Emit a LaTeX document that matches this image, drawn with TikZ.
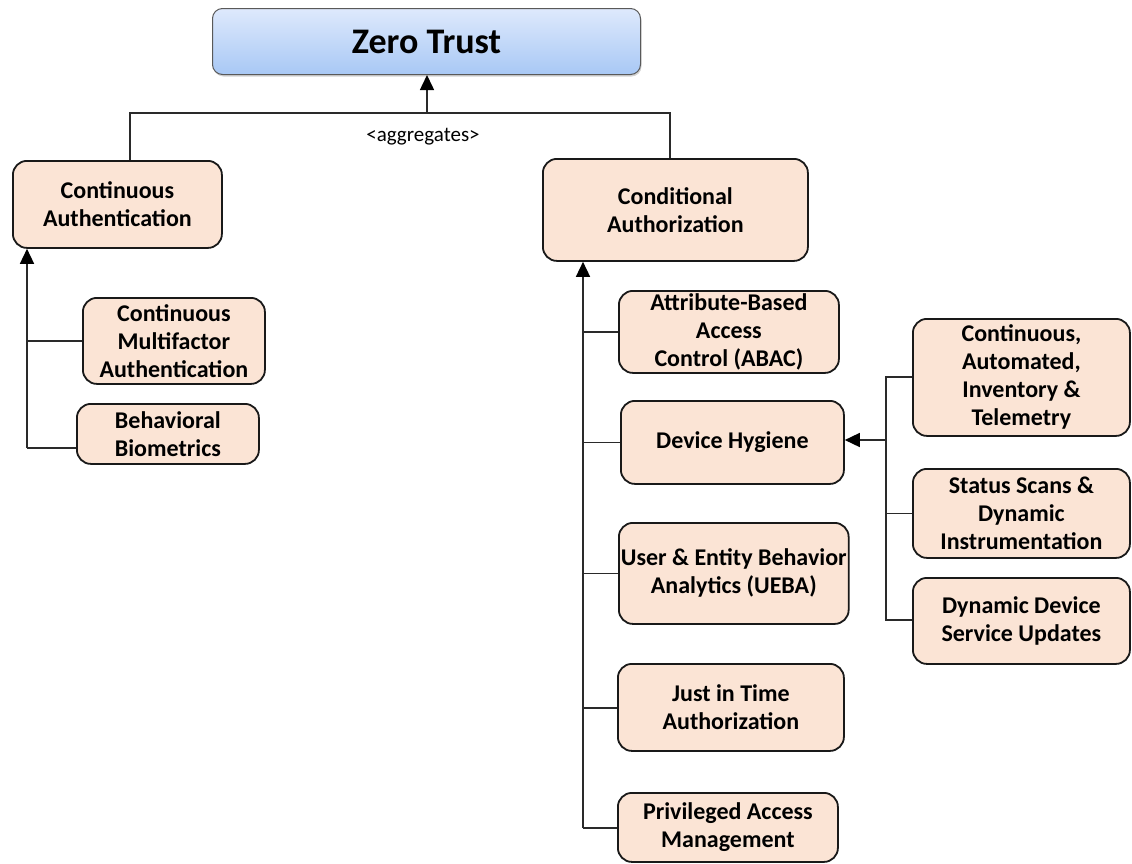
\documentclass[tikz,border=0pt]{standalone}
\usepackage{fontspec}
\setmainfont{Carlito}
\usetikzlibrary{arrows.meta,shadows}
\definecolor{peach}{HTML}{FBE4D5}
\definecolor{ztTop}{HTML}{DEE9FC}
\definecolor{ztBot}{HTML}{A8C8F5}
\definecolor{lineC}{HTML}{2A2A2A}
\begin{document}
\begin{tikzpicture}[x=1pt,y=-1pt,
  box/.style={draw=black!90, line width=1.8pt, fill=peach, rounded corners=14pt,
    anchor=north west, align=center, inner sep=2pt,
    font=\bfseries\fontsize{24}{28}\selectfont},
  ztbox/.style={draw=black!65, line width=1pt, rounded corners=10pt,
    top color=ztTop, bottom color=ztBot, anchor=north west,
    drop shadow={shadow xshift=1pt, shadow yshift=-2pt, opacity=0.35},
    font=\bfseries\fontsize{36}{40}\selectfont},
  conn/.style={draw=lineC, line width=1.5pt},
  arr/.style={conn, -{Triangle[length=15pt,width=14pt,color=black,fill=black]}},
  agg/.style={font=\fontsize{21}{24}\selectfont}]
\useasboundingbox (0,0) rectangle (1132,863);

\node[ztbox, minimum width=428pt, minimum height=66pt] (zt) at (212,8) {Zero Trust};

\node[box, minimum width=209pt, minimum height=87pt] (ca) at (12,160) {Continuous\\Authentication};
\node[box, minimum width=182pt, minimum height=86pt] (cma) at (82,297) {Continuous\\Multifactor\\Authentication};
\node[box, minimum width=182pt, minimum height=60pt] (bb) at (76,403) {Behavioral\\Biometrics};

\node[box, minimum width=265pt, minimum height=102pt] (cond) at (542,158) {Conditional\\Authorization};
\node[box, minimum width=220pt, minimum height=82pt] (abac) at (618,290) {Attribute-Based\\Access\\Control (ABAC)};
\node[box, minimum width=223pt, minimum height=83pt] (dh) at (620,400) {Device Hygiene};
\node[box, minimum width=225pt, minimum height=101pt] (ueba) at (618,522) {User \& Entity Behavior\\Analytics (UEBA)};
\node[box, minimum width=226pt, minimum height=87pt] (jit) at (617,663) {Just in Time\\Authorization};
\node[box, minimum width=220pt, minimum height=69pt] (pam) at (617,792) {Privileged Access\\Management};

\node[box, minimum width=217pt, minimum height=117pt] (cait) at (912,318) {Continuous,\\Automated,\\Inventory \&\\Telemetry};
\node[box, minimum width=217pt, minimum height=89pt] (ss) at (912,468) {Status Scans \&\\Dynamic\\Instrumentation};
\node[box, minimum width=217pt, minimum height=86pt] (dd) at (912,577) {Dynamic Device\\Service Updates};

% top aggregation
\coordinate (jt) at (427,113);
\coordinate (jl) at (130,113);
\coordinate (jr) at (670,113);
\draw[arr] (jt) -- (jt |- zt.south);
\draw[conn] (jl |- ca.north) -- (jl) -- (jr) -- (jr |- cond.north);
\node[agg] (aggl) at (423,137) {<aggregates>};

% left branch
\coordinate (lb) at (27,448);
\draw[arr] (lb) -- (lb |- ca.south);
\draw[conn] (cma.west) -- (cma.west -| lb);
\draw[conn] (bb.west |- lb) -- (lb);

% conditional branch
\coordinate (cb) at (583,828);
\coordinate (cj) at (583,708);
\draw[arr] (cb) -- (cb |- cond.south);
\draw[conn] (abac.west) -- (abac.west -| cb);
\draw[conn] (dh.west) -- (dh.west -| cb);
\draw[conn] (ueba.west) -- (ueba.west -| cb);
\draw[conn] (jit.west |- cj) -- (cj);
\draw[conn] (pam.west |- cb) -- (cb);

% device hygiene branch
\coordinate (rt) at (886,377);
\coordinate (rb) at (886,620);
\coordinate (ra) at (886,440);
\draw[conn] (cait.west |- rt) -- (rt) -- (rb) -- (dd.west |- rb);
\draw[conn] (ss.west) -- (ss.west -| rt);
\draw[arr] (ra) -- (ra -| dh.east);
\end{tikzpicture}
\end{document}
